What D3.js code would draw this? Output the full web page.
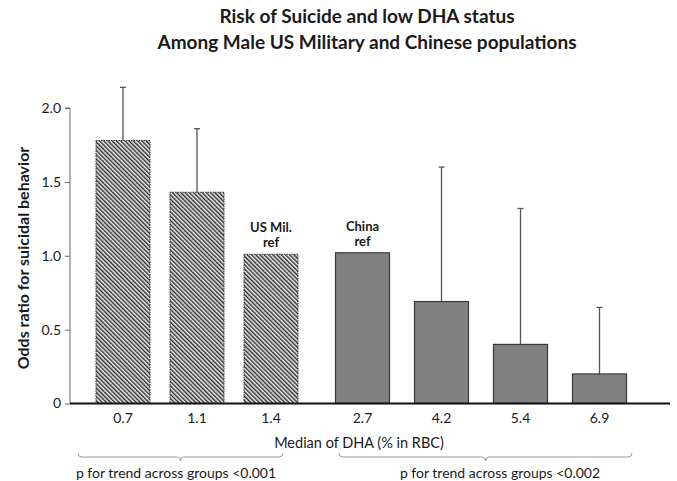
<!DOCTYPE html>
<html>
<head>
<meta charset="utf-8">
<script src="https://cdn.jsdelivr.net/npm/d3@7"></script>
<style>
  body { margin: 0; background: #fff; }
  text { font-family: Lato, "Open Sans", sans-serif; fill: #1a1a1a; }
</style>
</head>
<body>
<div id="chart"></div>
<script>
// data
var usCats = ["0.7", "1.1", "1.4"];
var usOdds = [1.78, 1.43, 1.01];
var usUpper = [2.14, 1.86, null];

var cnCats = ["2.7", "4.2", "5.4", "6.9"];
var cnOdds = [1.02, 0.69, 0.40, 0.20];
var cnUpper = [null, 1.60, 1.32, 0.65];

var yTicks = [0, 0.5, 1.0, 1.5, 2.0];
var yTickLabels = ["0", "0.5", "1.0", "1.5", "2.0"];

var titleLines = ["Risk of Suicide and low DHA status", "Among Male US Military and Chinese populations"];
var pTexts = ["p for trend across groups <0.001", "p for trend across groups <0.002"];

var width = 677, height = 481;

var svg = d3.select("#chart").append("svg")
    .attr("width", width)
    .attr("height", height);

// hatch pattern for the US military bars
var defs = svg.append("defs");
var hatch = defs.append("pattern")
    .attr("id", "hatch")
    .attr("patternUnits", "userSpaceOnUse")
    .attr("width", 3)
    .attr("height", 3)
    .attr("patternTransform", "rotate(-45)");
hatch.append("rect").attr("width", 3).attr("height", 3).attr("fill", "#ececec");
hatch.append("line")
    .attr("x1", 0.7).attr("y1", 0).attr("x2", 0.7).attr("y2", 3)
    .attr("stroke", "#2a2a2a").attr("stroke-width", 1.4);

var y = d3.scaleLinear().domain([0, 2]).range([403.5, 108]);

// one band scale per group, the groups have different spacing
var xUS = d3.scaleBand().domain(usCats).range([86, 308]).paddingInner(0.27).paddingOuter(0.135);
var xCN = d3.scaleBand().domain(cnCats).range([323, 639]).paddingInner(0.316).paddingOuter(0.158);

// title
svg.append("g").selectAll("text")
    .data(titleLines)
    .join("text")
    .attr("x", 367)
    .attr("y", function(d, i) { return 23 + i * 26; })
    .attr("text-anchor", "middle")
    .style("font-size", "19px")
    .style("font-weight", "bold")
    .text(function(d) { return d; });

// y axis
var yAxis = d3.axisLeft(y)
    .tickValues(yTicks)
    .tickFormat(function(d, i) { return yTickLabels[i]; })
    .tickSize(5)
    .tickPadding(4);

var gy = svg.append("g")
    .attr("transform", "translate(70,0)")
    .call(yAxis);
gy.select(".domain").attr("stroke", "#666").attr("d", "M-5," + y(2) + "H0V" + y(0));
gy.selectAll(".tick line").attr("stroke", "#666");
gy.selectAll(".tick text").style("font-size", "14px").attr("fill", "#222");

svg.append("text")
    .attr("transform", "translate(23," + 258 + ") rotate(-90)")
    .attr("text-anchor", "middle")
    .attr("dy", "0.35em")
    .style("font-size", "16px")
    .style("font-weight", "bold")
    .text("Odds ratio for suicidal behavior");

// error bars (upper only)
function errorBars(cats, odds, upper, x) {
    var data = cats.map(function(c, i) { return {c: c, v: odds[i], u: upper[i]}; })
        .filter(function(d) { return d.u != null; });
    var g = svg.append("g").attr("stroke", "#555").attr("stroke-width", 1.3);
    g.selectAll("line.stem")
        .data(data)
        .join("line")
        .attr("class", "stem")
        .attr("x1", function(d) { return x(d.c) + x.bandwidth() / 2; })
        .attr("x2", function(d) { return x(d.c) + x.bandwidth() / 2; })
        .attr("y1", function(d) { return y(d.v); })
        .attr("y2", function(d) { return y(d.u); });
    g.selectAll("line.cap")
        .data(data)
        .join("line")
        .attr("class", "cap")
        .attr("x1", function(d) { return x(d.c) + x.bandwidth() / 2 - 3; })
        .attr("x2", function(d) { return x(d.c) + x.bandwidth() / 2 + 3; })
        .attr("y1", function(d) { return y(d.u); })
        .attr("y2", function(d) { return y(d.u); });
}
errorBars(usCats, usOdds, usUpper, xUS);
errorBars(cnCats, cnOdds, cnUpper, xCN);

// bars
svg.append("g").selectAll("rect")
    .data(usCats)
    .join("rect")
    .attr("x", function(d) { return xUS(d); })
    .attr("width", xUS.bandwidth())
    .attr("y", function(d, i) { return y(usOdds[i]); })
    .attr("height", function(d, i) { return y(0) - y(usOdds[i]); })
    .attr("fill", "url(#hatch)")
    .attr("stroke", "#333")
    .attr("stroke-width", 1)
    .attr("stroke-dasharray", "1.5,1");

svg.append("g").selectAll("rect")
    .data(cnCats)
    .join("rect")
    .attr("x", function(d) { return xCN(d); })
    .attr("width", xCN.bandwidth())
    .attr("y", function(d, i) { return y(cnOdds[i]); })
    .attr("height", function(d, i) { return y(0) - y(cnOdds[i]); })
    .attr("fill", "#808080")
    .attr("stroke", "#3a3a3a")
    .attr("stroke-width", 1.2);

// reference labels
function refLabel(lines, x, cat, v) {
    svg.append("g").selectAll("text")
        .data(lines)
        .join("text")
        .attr("x", x(cat) + x.bandwidth() / 2)
        .attr("y", function(d, i) { return y(v) - 22 + i * 15; })
        .attr("text-anchor", "middle")
        .style("font-size", "13px")
        .style("font-weight", "bold")
        .text(function(d) { return d; });
}
refLabel(["US Mil.", "ref"], xUS, "1.4", usOdds[2]);
refLabel(["China", "ref"], xCN, "2.7", cnOdds[0]);

// baseline
svg.append("line")
    .attr("x1", 70).attr("x2", 670)
    .attr("y1", y(0)).attr("y2", y(0))
    .attr("stroke", "#111").attr("stroke-width", 2);

// x tick labels
var xAxisUS = d3.axisBottom(xUS).tickSize(0).tickPadding(10);
var xAxisCN = d3.axisBottom(xCN).tickSize(0).tickPadding(10);
[[xAxisUS], [xAxisCN]].forEach(function(a) {
    var g = svg.append("g").attr("transform", "translate(0," + y(0) + ")").call(a[0]);
    g.select(".domain").remove();
    g.selectAll(".tick text").style("font-size", "14px").attr("fill", "#222");
});

svg.append("text")
    .attr("x", 359)
    .attr("y", 448)
    .attr("text-anchor", "middle")
    .style("font-size", "14.5px")
    .text("Median of DHA (% in RBC)");

// group brackets
var brackets = [
    {x0: xUS.range()[0] - 8, x1: xUS.range()[1] - 25, text: pTexts[0]},
    {x0: xCN.range()[0] + 16, x1: xCN.range()[1] - 7, text: pTexts[1]}
];
var bg = svg.append("g");
bg.selectAll("path")
    .data(brackets)
    .join("path")
    .attr("fill", "none")
    .attr("stroke", "#999")
    .attr("stroke-width", 1)
    .attr("d", function(d) {
        var m = (d.x0 + d.x1) / 2;
        return "M" + d.x0 + ",453Q" + d.x0 + ",457 " + (d.x0 + 4) + ",457H" + (m - 3) +
            "Q" + m + ",457 " + m + ",461Q" + m + ",457 " + (m + 3) + ",457H" + (d.x1 - 4) +
            "Q" + d.x1 + ",457 " + d.x1 + ",453";
    });
bg.selectAll("text")
    .data(brackets)
    .join("text")
    .attr("x", function(d, i) { return i === 0 ? 176 : 500; })
    .attr("y", 478)
    .attr("text-anchor", "middle")
    .style("font-size", "14px")
    .text(function(d) { return d.text; });
</script>
</body>
</html>
